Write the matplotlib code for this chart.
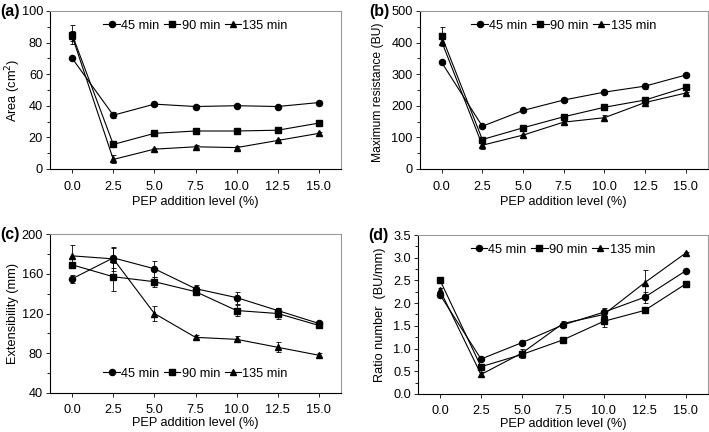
import matplotlib
matplotlib.use("Agg")
import matplotlib.pyplot as plt
from matplotlib.ticker import MultipleLocator, FormatStrFormatter
import numpy as np

plt.rcParams['font.family'] = ['Liberation Sans', 'DejaVu Sans']

levels = [0.0, 2.5, 5.0, 7.5, 10.0, 12.5, 15.0]
series_names = ["45 min", "90 min", "135 min"]

area_45 = [70, 34, 41, 39.5, 40, 39.5, 42]
area_90 = [85, 15.5, 22.5, 24, 24, 24.5, 29]
area_135 = [84, 6, 12.5, 14, 13.5, 18, 22.5]
area_err_45 = [0.5, 2, 1, 1, 1, 1, 1]
area_err_90 = [6, 1, 1, 1, 1, 1, 1]
area_err_135 = [3, 2.5, 1, 1, 1, 1, 1]

res_45 = [337, 135, 185, 218, 243, 262, 297]
res_90 = [420, 93, 130, 165, 195, 218, 258]
res_135 = [403, 75, 107, 148, 162, 210, 240]
res_err_45 = [5, 5, 5, 5, 5, 8, 5]
res_err_90 = [30, 5, 5, 5, 5, 5, 5]
res_err_135 = [12, 12, 5, 5, 10, 5, 5]

ext_45 = [155, 176, 165, 145, 136, 123, 110]
ext_90 = [169, 157, 152, 142, 123, 120, 108]
ext_135 = [178, 175, 120, 96, 94, 86, 78]
ext_err_45 = [4, 10, 8, 4, 6, 3, 2]
ext_err_90 = [3, 14, 5, 3, 6, 6, 2]
ext_err_135 = [11, 12, 8, 2, 3, 5, 2]

ratio_45 = [2.18, 0.77, 1.13, 1.52, 1.80, 2.13, 2.71]
ratio_90 = [2.50, 0.60, 0.87, 1.19, 1.60, 1.84, 2.42]
ratio_135 = [2.28, 0.43, 0.90, 1.55, 1.75, 2.45, 3.10]
ratio_err_45 = [0.05, 0.03, 0.05, 0.03, 0.1, 0.12, 0.03]
ratio_err_90 = [0.03, 0.03, 0.03, 0.03, 0.12, 0.03, 0.03]
ratio_err_135 = [0.05, 0.05, 0.1, 0.05, 0.05, 0.27, 0.03]

markers = ["o", "s", "^"]
FS = 9.2

fig = plt.figure(figsize=(7.09, 4.32), dpi=100)

panels = [
    dict(rect=[0.0705, 0.609, 0.4105, 0.3657], label="(a)",
         ys=[area_45, area_90, area_135], es=[area_err_45, area_err_90, area_err_135],
         ylim=(0, 100), major=20, fmt="%d", ylabel="Area (cm$^2$)", leg="upper center",
         xpad=6, lpad=2, ylx=-0.127, yly=0.5, ylfs=FS, legpad=0.3),
    dict(rect=[0.592, 0.609, 0.406, 0.3657], label="(b)",
         ys=[res_45, res_90, res_135], es=[res_err_45, res_err_90, res_err_135],
         ylim=(0, 500), major=100, fmt="%d", ylabel="Maximum resistance (BU)", leg="upper center",
         xpad=6, lpad=2, ylx=-0.146, yly=0.485, ylfs=8.7, legpad=0.3),
    dict(rect=[0.0705, 0.0903, 0.4105, 0.368], label="(c)",
         ys=[ext_45, ext_90, ext_135], es=[ext_err_45, ext_err_90, ext_err_135],
         ylim=(40, 200), major=40, fmt="%d", ylabel="Extensibility (mm)", leg="lower center",
         xpad=5, lpad=0.5, ylx=-0.127, yly=0.5, ylfs=FS, legpad=0.65),
    dict(rect=[0.5896, 0.088, 0.4085, 0.368], label="(d)",
         ys=[ratio_45, ratio_90, ratio_135], es=[ratio_err_45, ratio_err_90, ratio_err_135],
         ylim=(0, 3.5), major=0.5, fmt="%.1f", ylabel="Ratio number  (BU/mm)", leg="upper center",
         xpad=5, lpad=0.5, ylx=-0.131, yly=0.5, ylfs=FS, legpad=0.3),
]

for p in panels:
    ax = fig.add_axes(p["rect"])
    for y, e, m, name in zip(p["ys"], p["es"], markers, series_names):
        ax.errorbar(levels, y, yerr=e, color="black", marker=m, markersize=4.4,
                    linewidth=0.8, elinewidth=0.6, capsize=1.8, capthick=0.6, label=name)
    ax.set_xlim(-1.35, 16.35)
    ax.set_ylim(*p["ylim"])
    ax.xaxis.set_major_locator(MultipleLocator(2.5))
    ax.xaxis.set_major_formatter(FormatStrFormatter("%.1f"))
    ax.yaxis.set_major_locator(MultipleLocator(p["major"]))
    ax.yaxis.set_minor_locator(MultipleLocator(p["major"] / 2))
    ax.yaxis.set_major_formatter(FormatStrFormatter(p["fmt"]))
    ax.tick_params(axis="both", which="major", direction="out", length=3, width=0.6,
                   labelsize=FS, pad=2)
    ax.tick_params(axis="y", which="minor", direction="out", length=2, width=0.6)
    ax.tick_params(axis="x", pad=p["xpad"])
    ax.spines["left"].set_color("black")
    ax.spines["bottom"].set_color("black")
    ax.spines["top"].set_color("#9a9a9a")
    ax.spines["right"].set_color("#9a9a9a")
    for s in ax.spines.values():
        s.set_linewidth(0.8)
    ax.set_xlabel("PEP addition level (%)", fontsize=FS, labelpad=p["lpad"])
    ax.set_ylabel(p["ylabel"], fontsize=p["ylfs"], va="center")
    ax.yaxis.set_label_coords(p["ylx"], p["yly"])
    handles, labels = ax.get_legend_handles_labels()
    handles = [h[0] for h in handles]
    ax.legend(handles, labels, loc=p["leg"], ncol=3, frameon=False, fontsize=FS,
              handlelength=1.3, handletextpad=0.1, columnspacing=0.35,
              borderaxespad=p["legpad"])
    bbox = ax.get_position()
    fig.text(bbox.x0 - 0.0705, bbox.y1 - 0.002, p["label"], fontsize=11.5,
             fontweight="bold", va="center", ha="left")

fig.savefig("out.png", dpi=100)
